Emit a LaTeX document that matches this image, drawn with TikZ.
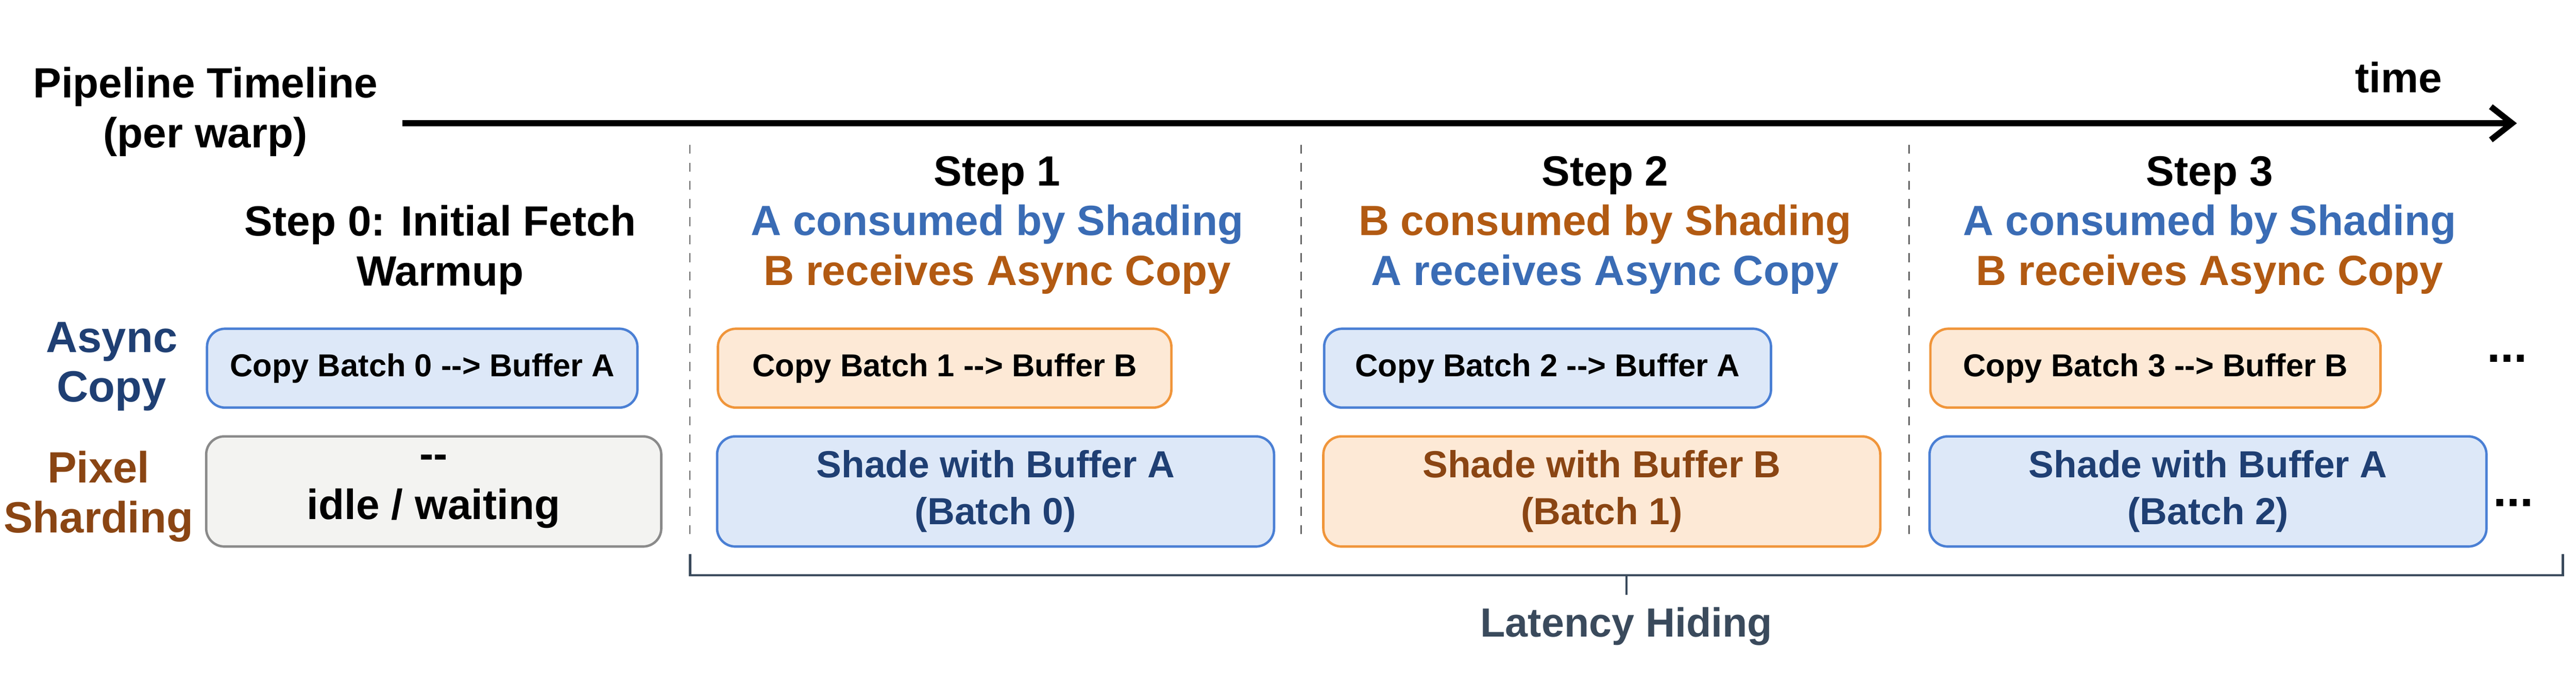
\documentclass[tikz,border=0pt]{standalone}
\usepackage{fontspec}
\setmainfont{Liberation Sans}
\usetikzlibrary{arrows.meta,positioning}
\definecolor{bluefill}{HTML}{DDE8F8}
\definecolor{blueline}{HTML}{4A7FD4}
\definecolor{orangefill}{HTML}{FDE9D6}
\definecolor{orangeline}{HTML}{F0953A}
\definecolor{grayfill}{HTML}{F3F3F1}
\definecolor{grayline}{HTML}{8A8A8A}
\definecolor{bluetext}{HTML}{3A6CB5}
\definecolor{orangetext}{HTML}{B25A12}
\definecolor{darkblue}{HTML}{1F3F73}
\definecolor{darkbrown}{HTML}{8A4513}
\definecolor{slate}{HTML}{3A4A5C}
\newdimen\unitpx \unitpx=0.01913cm
\tikzset{
  stage/.style={rounded corners=6pt, thick, font=\bfseries\fontsize{10.5}{12}\selectfont, align=center, inner sep=0pt},
  bluebox/.style={stage, fill=bluefill, draw=blueline},
  orangebox/.style={stage, fill=orangefill, draw=orangeline},
  graybox/.style={stage, fill=grayfill, draw=grayline},
  shadetext/.style={font=\bfseries\fontsize{12.5}{15.5}\selectfont},
  head/.style={font=\bfseries\fontsize{14}{16.5}\selectfont, align=center},
  rowlabel/.style={font=\bfseries\fontsize{14.5}{16.5}\selectfont, align=center},
}
\begin{document}
\begin{tikzpicture}[x=0.01913cm,y=-0.01913cm]
\useasboundingbox (0,0) rectangle (1568,416);

% title and time axis
\node[head] (title) at (125,68) {Pipeline Timeline\\(per warp)};
\coordinate (tstart) at (245,75);
\coordinate (tend) at (1532,75);
\draw[line width=2pt,-{Straight Barb[length=7pt,width=11pt]}] (tstart) -- (tend);
\node[head] (time) at (1460,47) {time};

% step separators
\foreach \x in {420,792,1162}
  \draw[dashed,gray!80!black,thin] (\x,88) -- (\x,330);

% step headings
\node[head] (step0) at (268,152) {Step 0: Initial Fetch\\Warmup};
\node[head] (step1) at (607,137) {Step 1\\\textcolor{bluetext}{A consumed by Shading}\\\textcolor{orangetext}{B receives Async Copy}};
\node[head] (step2) at (977,137) {Step 2\\\textcolor{orangetext}{B consumed by Shading}\\\textcolor{bluetext}{A receives Async Copy}};
\node[head] (step3) at (1345,137) {Step 3\\\textcolor{bluetext}{A consumed by Shading}\\\textcolor{orangetext}{B receives Async Copy}};

% row labels
\node[rowlabel,text=darkblue] (asynclbl) at (68,223) {Async\\Copy};
\node[rowlabel,text=darkbrown] (pixellbl) at (60,302) {Pixel\\Sharding};

% async copy row
\node[bluebox,minimum width=262\unitpx,minimum height=48\unitpx] (copy0) at (257,224) {Copy Batch 0 {-}{-}> Buffer A};
\node[orangebox,minimum width=276\unitpx,minimum height=48\unitpx] (copy1) at (575,224) {Copy Batch 1 {-}{-}> Buffer B};
\node[bluebox,minimum width=272\unitpx,minimum height=48\unitpx] (copy2) at (942,224) {Copy Batch 2 {-}{-}> Buffer A};
\node[orangebox,minimum width=274\unitpx,minimum height=48\unitpx] (copy3) at (1312,224) {Copy Batch 3 {-}{-}> Buffer B};
\node[font=\bfseries\fontsize{16}{16}\selectfont] (more1) at (1526,218) {...};

% shading row
\node[graybox,minimum width=277\unitpx,minimum height=67\unitpx,font=\bfseries\fontsize{14}{17}\selectfont] (idle) at (264,299) {{-}{-}\\idle / waiting};
\node[bluebox,minimum width=339\unitpx,minimum height=67\unitpx,shadetext,text=darkblue] (shade0) at (606,299) {Shade with Buffer A\\(Batch 0)};
\node[orangebox,minimum width=339\unitpx,minimum height=67\unitpx,shadetext,text=darkbrown] (shade1) at (975,299) {Shade with Buffer B\\(Batch 1)};
\node[bluebox,minimum width=339\unitpx,minimum height=67\unitpx,shadetext,text=darkblue] (shade2) at (1344,299) {Shade with Buffer A\\(Batch 2)};
\node[font=\bfseries\fontsize{16}{16}\selectfont] (more2) at (1530,306) {...};

% latency hiding bracket
\draw[slate,thick] (420,337) -- (420,350) -- (1560,350) -- (1560,337);
\draw[slate,thick] (990,350) -- (990,362);
\node[font=\bfseries\fontsize{13.5}{15}\selectfont,text=slate] (latency) at (990,381) {Latency Hiding};
\end{tikzpicture}
\end{document}
